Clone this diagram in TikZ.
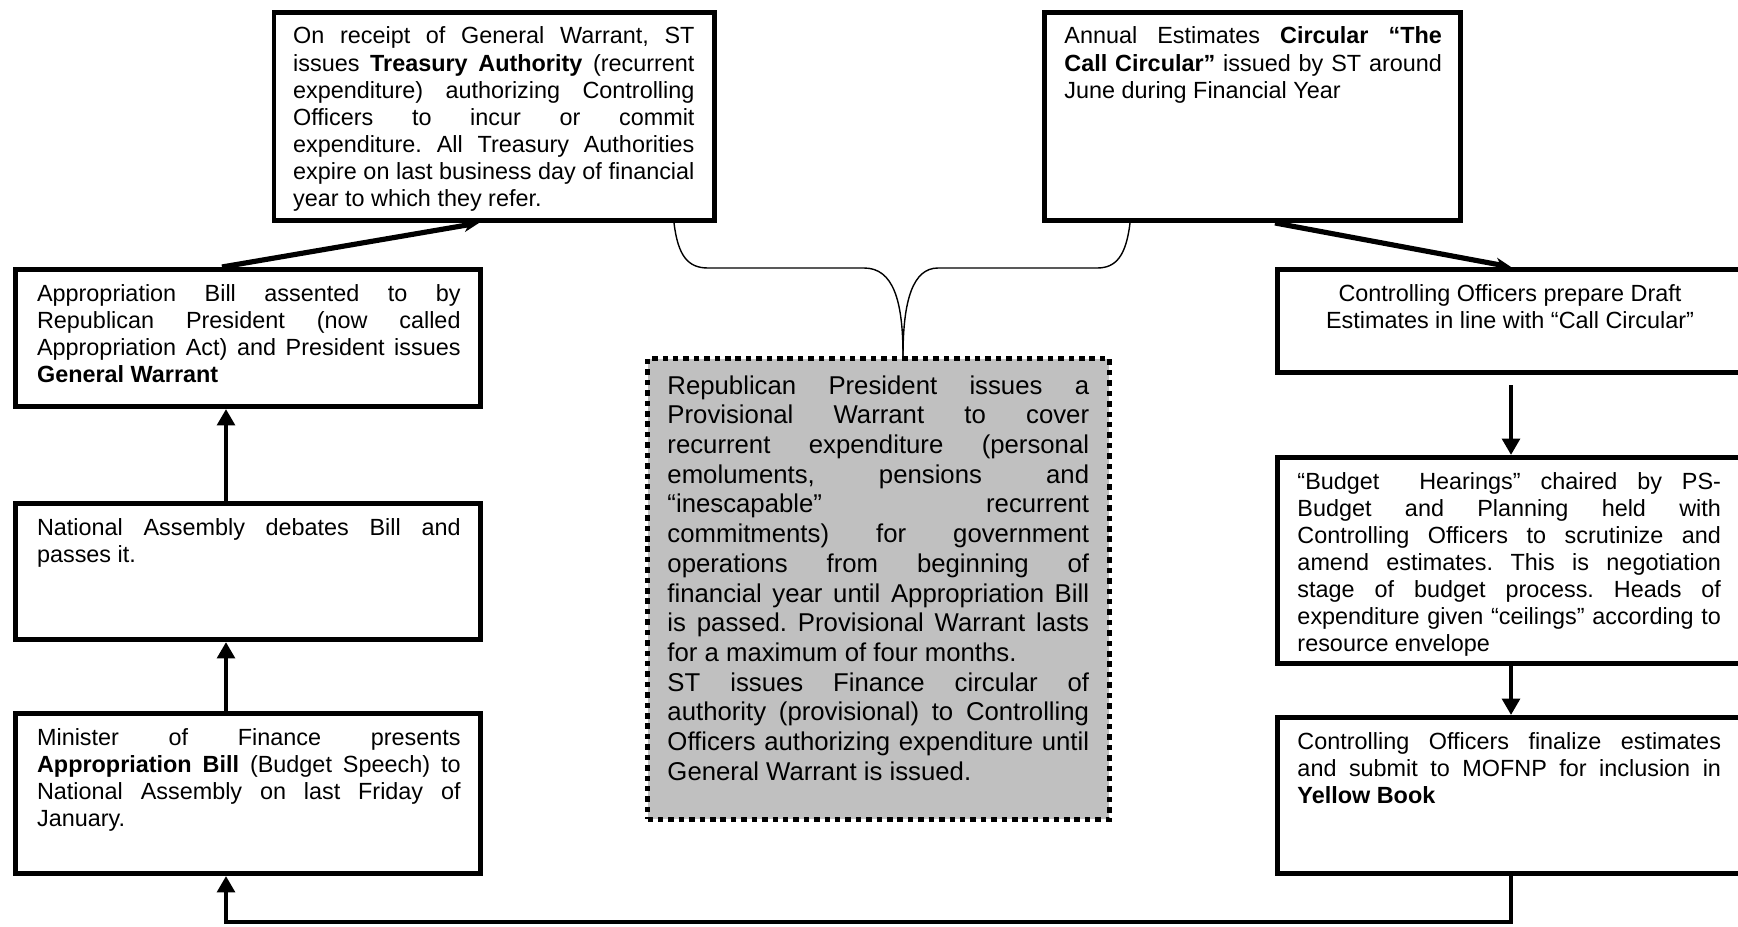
\documentclass[tikz,border=0pt]{standalone}
\usepackage{fontspec}
\setmainfont{Liberation Sans}
\usetikzlibrary{arrows.meta}
\definecolor{silver}{RGB}{192,192,192}
\newcommand\jl[1]{\hbox to\hsize{#1}}
\newcommand\lastl[1]{\hbox{#1}}
\newcommand\ctl[1]{\hbox to\hsize{\hfil#1\hfil}}
\newcommand\tenpt{\fontsize{10pt}{11.55pt}\selectfont\frenchspacing}
\newcommand\elevenpt{\fontsize{11pt}{12.7pt}\selectfont\frenchspacing}
\hbadness=10000
\hfuzz=6pt
\begin{document}
\begin{tikzpicture}[x=0.42735pt, y=-0.42735pt,
  box/.style={draw=black, line width=2pt, fill=white, inner sep=0pt},
  dotbox/.style={draw=black, line width=2.35pt, dash pattern=on 2.35pt off 2.1pt, fill=silver, inner sep=0pt},
  txt/.style={anchor=base west, inner sep=0pt},
  ctxt/.style={anchor=base, inner sep=0pt},
  uparr/.style={line width=2pt, -{Triangle[length=7pt,width=7.5pt]}},
  downarr/.style={line width=1.8pt, -{Triangle[length=7pt,width=7.5pt]}},
  diag/.style={line width=2.2pt, -{Stealth[length=6.5pt,width=5.5pt,inset=2pt]}},
  brace/.style={draw=black, line width=0.6pt}]
\useasboundingbox (0,0) rectangle (1738,926);
\fill[white] (0,0) rectangle (1738,926);
\clip (0,0) rectangle (1738,926);

% boxes
\node[box, minimum width=188.3pt, minimum height=89pt] (ta) at (494.3,116.5) {};
\node[box, minimum width=177.9pt, minimum height=89pt] (cc) at (1252.5,116.5) {};
\node[box, minimum width=198.9pt, minimum height=58.7pt] (l1) at (248,338) {};
\node[box, minimum width=198.9pt, minimum height=58.3pt] (l2) at (248,571.5) {};
\node[box, minimum width=198.9pt, minimum height=68.5pt] (l3) at (248,793.5) {};
\node[box, minimum width=199.7pt, minimum height=44.2pt] (r1) at (1511,321) {};
\node[box, minimum width=199.7pt, minimum height=88.2pt] (r2) at (1511,560.5) {};
\node[box, minimum width=199.7pt, minimum height=66.8pt] (r3) at (1511,795.5) {};
\node[dotbox, minimum width=197.4pt, minimum height=196.9pt] (pw) at (878.5,589) {};

% helper coordinates
\coordinate (lx) at (226,0);
\coordinate (dx) at (222,0);
\coordinate (tax) at (479,0);
\coordinate (ccx) at (1275,0);
\coordinate (bot) at (226,922);
\coordinate (bl) at (674,0);
\coordinate (br) at (1130,0);
\coordinate (bt) at (903,0);

% connectors
\draw[uparr] (l2.north -| lx) -- (l1.south -| lx);
\draw[uparr] (l3.north -| lx) -- (l2.south -| lx);
\draw[uparr] (r3.south) |- (bot) -- (l3.south -| lx);
\draw[downarr] ([yshift=-4.3pt]r1.south) -- (r2.north);
\draw[downarr] (r2.south) -- (r3.north);
\draw[diag] (l1.north -| dx) -- (ta.south -| tax);
\draw[diag] (cc.south -| ccx) -- (r1.north);

% brace
\draw[brace] (ta.south -| bl) .. controls (678,256) and (688,268) .. (708,268)
  -- (864,268) .. controls (893,268) and (903,300) .. (pw.north -| bt);
\draw[brace] (cc.south -| br) .. controls (1126,256) and (1116,268) .. (1097,268)
  -- (938,268) .. controls (913,268) and (903,300) .. (pw.north -| bt);

% texts
\node[txt] (tat) at (292.7,44) {\parbox[t]{171.5pt}{\tenpt
\jl{On receipt of General Warrant, ST}
\jl{issues \textbf{Treasury Authority} (recurrent}
\jl{expenditure) authorizing Controlling}
\jl{Officers to incur or commit}
\jl{expenditure. All Treasury Authorities}
\jl{expire on last business day of financial}
\lastl{year to which they refer.}}};

\node[txt] (cct) at (1064,44) {\parbox[t]{161.3pt}{\tenpt
\jl{Annual Estimates \textbf{Circular “The}}
\jl{\textbf{Call Circular”} issued by ST around}
\lastl{June during Financial Year}}};

\node[txt] (l1t) at (36.6,301) {\parbox[t]{181pt}{\tenpt
\jl{Appropriation Bill assented to by}
\jl{Republican President (now called}
\jl{Appropriation Act) and President issues}
\lastl{\textbf{General Warrant}}}};

\node[txt] (l2t) at (36.6,535) {\parbox[t]{181pt}{\tenpt
\jl{National Assembly debates Bill and}
\lastl{passes it.}}};

\node[txt] (l3t) at (36.6,745) {\parbox[t]{181pt}{\tenpt
\jl{Minister of Finance presents}
\jl{\textbf{Appropriation Bill} (Budget Speech) to}
\jl{National Assembly on last Friday of}
\lastl{January.}}};

\node[ctxt] (r1t) at (1510,301) {\parbox[t]{195pt}{\tenpt
\ctl{Controlling Officers prepare Draft}
\ctl{Estimates in line with “Call Circular”}}};

\node[txt] (r2t) at (1297,489) {\parbox[t]{181pt}{\tenpt
\jl{“Budget\ \ Hearings” chaired by PS-}
\jl{Budget and Planning held with}
\jl{Controlling Officers to scrutinize and}
\jl{amend estimates. This is negotiation}
\jl{stage of budget process. Heads of}
\jl{expenditure given “ceilings” according to}
\lastl{resource envelope}}};

\node[txt] (r3t) at (1297,749) {\parbox[t]{181pt}{\tenpt
\jl{Controlling Officers finalize estimates}
\jl{and submit to MOFNP for inclusion in}
\lastl{\textbf{Yellow Book}}}};

\node[txt] (pwt) at (667,394) {\parbox[t]{180.2pt}{\elevenpt
\jl{Republican President issues a}
\jl{Provisional Warrant to cover}
\jl{recurrent expenditure (personal}
\jl{emoluments, pensions and}
\jl{“inescapable” recurrent}
\jl{commitments) for government}
\jl{operations from beginning of}
\jl{financial year until Appropriation Bill}
\jl{is passed. Provisional Warrant lasts}
\lastl{for a maximum of four months.}
\jl{ST issues Finance circular of}
\jl{authority (provisional) to Controlling}
\jl{Officers authorizing expenditure until}
\lastl{General Warrant is issued.}}};
\end{tikzpicture}
\end{document}
